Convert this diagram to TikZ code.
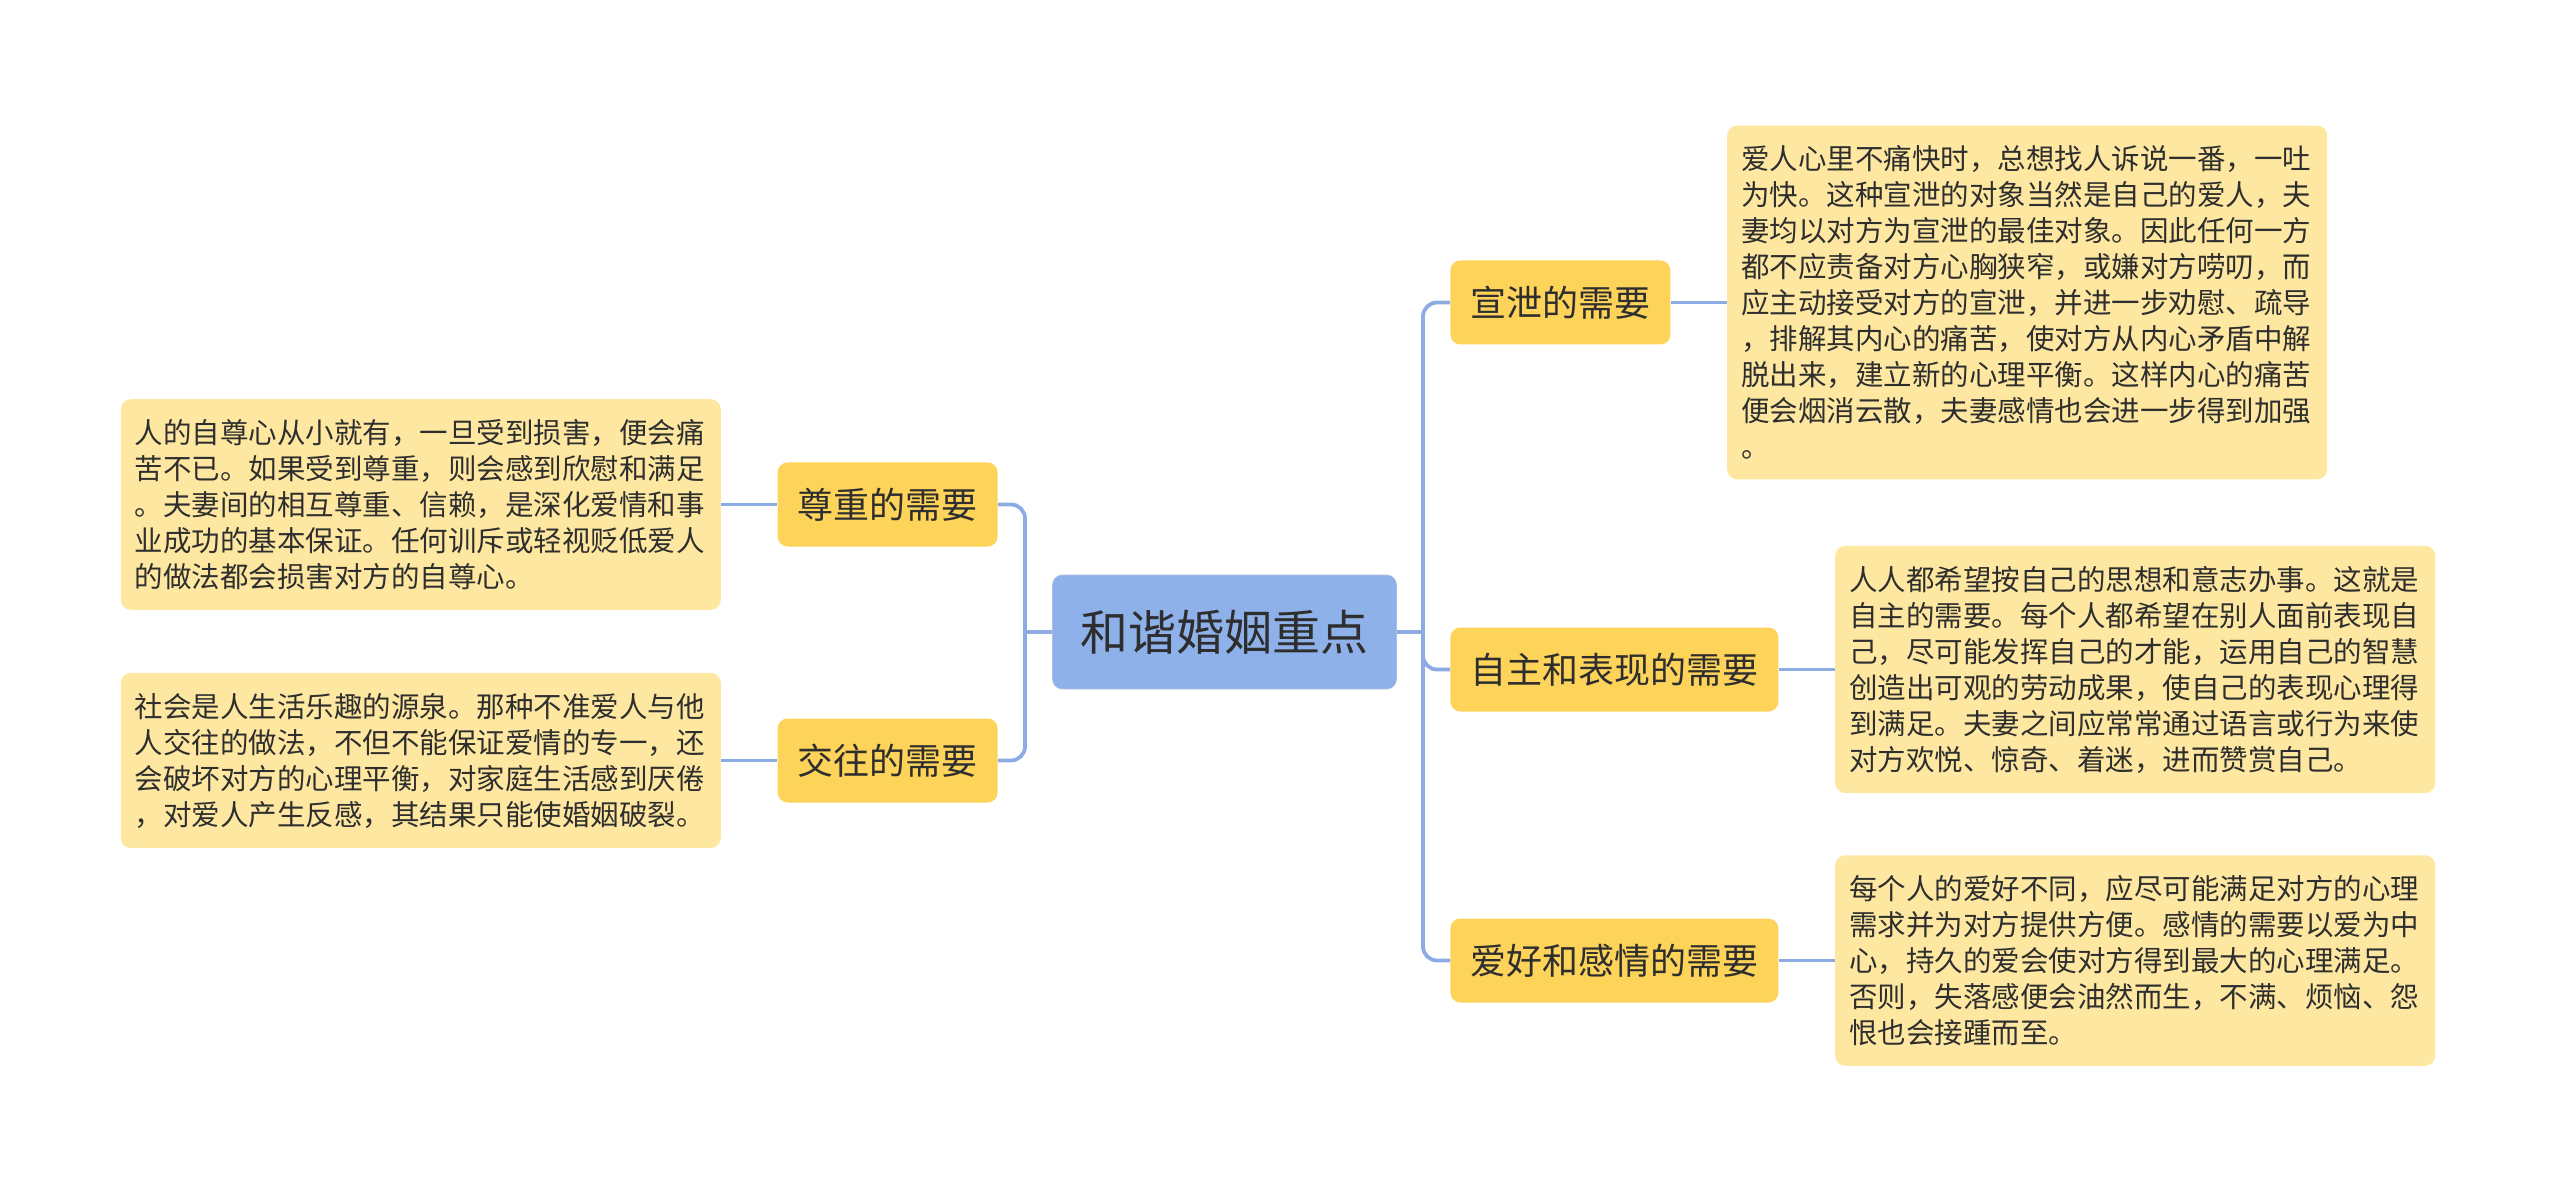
\documentclass[tikz,border=0pt]{standalone}
\usepackage{fontspec}
\usepackage{tikz}
\usetikzlibrary{positioning}
\newfontfamily\cjk{Noto Sans CJK SC}
\definecolor{rootblue}{HTML}{8EB1EA}
\definecolor{needyellow}{HTML}{FDD35A}
\definecolor{notecream}{HTML}{FEE8A1}
\definecolor{linkblue}{HTML}{8DACE4}
\definecolor{inkgrey}{HTML}{2E2E2E}

\begin{document}
\begin{tikzpicture}[x=0.5pt,y=-0.5pt,node distance=28pt,text=inkgrey]
  \tikzstyle{root}=[rectangle,rounded corners=5pt,fill=rootblue,draw=rootblue!85!black!60,
                    font=\cjk\fontsize{24}{28}\selectfont,inner xsep=14pt,minimum height=57pt]
  \tikzstyle{need}=[rectangle,rounded corners=5pt,fill=needyellow,
                    font=\cjk\fontsize{18}{22}\selectfont,inner xsep=10pt,minimum height=42pt]
  \tikzstyle{note}=[rectangle,rounded corners=5pt,fill=notecream,align=left,text width=286pt,
                    font=\cjk\fontsize{14.25}{18}\selectfont,inner xsep=7pt,inner ysep=10pt]
  \tikzstyle{link}=[draw=linkblue,line width=1.9pt,rounded corners=7pt]

  \fill[white] (0,0) rectangle (2560,1192);
  \useasboundingbox (0,0) rectangle (2560,1192);

  \node[root] (R) at (1224.5,632) {和谐婚姻重点};

  \node[need,anchor=east] (ZZ) at (998,504.5) {尊重的需要};
  \node[need,anchor=east] (JW) at (998,760.5) {交往的需要};
  \node[need,anchor=west] (XX) at (1450,302.5) {宣泄的需要};
  \node[need,anchor=west] (ZB) at (1450,669.5) {自主和表现的需要};
  \node[need,anchor=west] (AH) at (1450,960.5) {爱好和感情的需要};

  \node[note] (ZZn) [left=of ZZ] {人的自尊心从小就有，一旦受到损害，便会痛\\
    苦不已。如果受到尊重，则会感到欣慰和满足\\
    。夫妻间的相互尊重、信赖，是深化爱情和事\\
    业成功的基本保证。任何训斥或轻视贬低爱人\\
    的做法都会损害对方的自尊心。};
  \node[note] (JWn) [left=of JW] {社会是人生活乐趣的源泉。那种不准爱人与他\\
    人交往的做法，不但不能保证爱情的专一，还\\
    会破坏对方的心理平衡，对家庭生活感到厌倦\\
    ，对爱人产生反感，其结果只能使婚姻破裂。};
  \node[note] (XXn) [right=of XX] {爱人心里不痛快时，总想找人诉说一番，一吐\\
    为快。这种宣泄的对象当然是自己的爱人，夫\\
    妻均以对方为宣泄的最佳对象。因此任何一方\\
    都不应责备对方心胸狭窄，或嫌对方唠叨，而\\
    应主动接受对方的宣泄，并进一步劝慰、疏导\\
    ，排解其内心的痛苦，使对方从内心矛盾中解\\
    脱出来，建立新的心理平衡。这样内心的痛苦\\
    便会烟消云散，夫妻感情也会进一步得到加强\\
    。};
  \node[note] (ZBn) [right=of ZB] {人人都希望按自己的思想和意志办事。这就是\\
    自主的需要。每个人都希望在别人面前表现自\\
    己，尽可能发挥自己的才能，运用自己的智慧\\
    创造出可观的劳动成果，使自己的表现心理得\\
    到满足。夫妻之间应常常通过语言或行为来使\\
    对方欢悦、惊奇、着迷，进而赞赏自己。};
  \node[note] (AHn) [right=of AH] {每个人的爱好不同，应尽可能满足对方的心理\\
    需求并为对方提供方便。感情的需要以爱为中\\
    心，持久的爱会使对方得到最大的心理满足。\\
    否则，失落感便会油然而生，不满、烦恼、怨\\
    恨也会接踵而至。};

  \coordinate (lj) at (1025,632);
  \coordinate (rj) at (1423,632);

  \path[link] (R.west) -- (lj);
  \path[link] (ZZ.east) -| (lj) |- (JW.east);
  \path[link] (R.east) -- (rj);
  \path[link] (rj) |- (XX.west);
  \path[link] (rj) |- (ZB.west);
  \path[link] (rj) |- (AH.west);

  \path[link] (ZZn) -- (ZZ);
  \path[link] (JWn) -- (JW);
  \path[link] (XX) -- (XXn);
  \path[link] (ZB) -- (ZBn);
  \path[link] (AH) -- (AHn);
\end{tikzpicture}
\end{document}
